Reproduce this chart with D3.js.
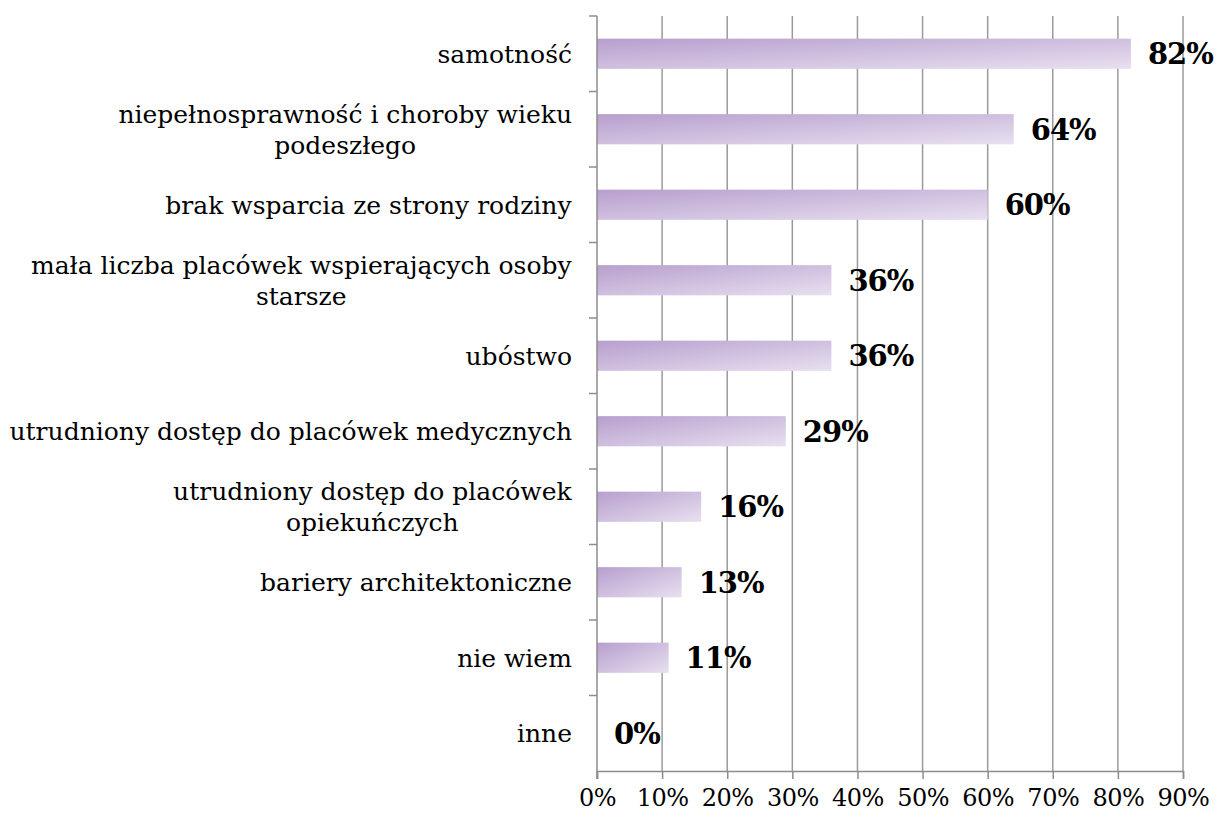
<!DOCTYPE html>
<html>
<head>
<meta charset="utf-8">
<script src="https://cdn.jsdelivr.net/npm/d3@7"></script>
<style>
  html, body { margin: 0; padding: 0; background: #fff; }
  svg { display: block; }
</style>
</head>
<body>
<svg id="chart" width="1219" height="820"></svg>
<script>
// Categories (top to bottom) and their shares
const categories = [
  "samotność",
  "niepełnosprawność i choroby wieku|podeszłego",
  "brak wsparcia ze strony rodziny",
  "mała liczba placówek wspierających osoby|starsze",
  "ubóstwo",
  "utrudniony dostęp do placówek medycznych",
  "utrudniony dostęp do placówek|opiekuńczych",
  "bariery architektoniczne",
  "nie wiem",
  "inne"
];
const values = [0.82, 0.64, 0.60, 0.36, 0.36, 0.29, 0.16, 0.13, 0.11, 0.00];
const xTicks = [0, 0.1, 0.2, 0.3, 0.4, 0.5, 0.6, 0.7, 0.8, 0.9];

const FONT = "'DejaVu Serif', 'Liberation Serif', serif";
const svg = d3.select("#chart");
const plot = { left: 597, right: 1183, top: 16, bottom: 771 };

const x = d3.scaleLinear().domain([0, 0.9]).range([plot.left, plot.right]);
const y = d3.scaleBand().domain(d3.range(categories.length)).range([plot.top, plot.bottom]).paddingInner(0.6).paddingOuter(0.3);
const band = (plot.bottom - plot.top) / categories.length;

// Bar gradient: darker lavender at top-left fading to pale at bottom-right
const defs = svg.append("defs");
const grad = defs.append("linearGradient").attr("id", "barGrad")
  .attr("x1", "0").attr("y1", "0").attr("x2", "1").attr("y2", "1");
grad.append("stop").attr("offset", "0%").attr("stop-color", "#b79fce");
grad.append("stop").attr("offset", "100%").attr("stop-color", "#e8e0f0");

// Vertical gridlines
svg.append("g").selectAll("line").data(xTicks.slice(1)).join("line")
  .attr("x1", d => x(d)).attr("x2", d => x(d))
  .attr("y1", plot.top).attr("y2", plot.bottom)
  .attr("stroke", "#9a9a9a").attr("stroke-width", 1.5);

// Bars
svg.append("g").selectAll("rect").data(values).join("rect")
  .attr("x", x(0))
  .attr("y", (d, i) => y(i))
  .attr("width", d => x(d) - x(0))
  .attr("height", y.bandwidth())
  .attr("fill", "url(#barGrad)");

// Value labels
svg.append("g").selectAll("text").data(values).join("text")
  .attr("x", d => x(d) + 17)
  .attr("y", (d, i) => y(i) + y.bandwidth() / 2)
  .attr("dy", "0.36em")
  .attr("font-family", FONT)
  .attr("font-weight", "bold")
  .attr("font-size", 29)
  .attr("letter-spacing", -1)
  .attr("fill", "#000")
  .text(d => Math.round(d * 100) + "%");

// Y axis line with ticks between categories
const yAxis = svg.append("g");
yAxis.append("line").attr("x1", plot.left).attr("x2", plot.left).attr("y1", plot.top).attr("y2", plot.bottom + 8)
  .attr("stroke", "#8c8c8c").attr("stroke-width", 1.5);
yAxis.selectAll("line.tk").data(d3.range(categories.length)).join("line").attr("class", "tk")
  .attr("x1", plot.left - 8).attr("x2", plot.left)
  .attr("y1", i => plot.top + i * band).attr("y2", i => plot.top + i * band)
  .attr("stroke", "#8c8c8c").attr("stroke-width", 1.5);

// Category labels, wrapped lines centred within a right-aligned block
categories.forEach((c, i) => {
  const lines = c.split("|");
  const cy = y(i) + y.bandwidth() / 2;
  const lh = 31;
  const t = svg.append("text")
    .attr("font-family", FONT).attr("font-size", 25).attr("fill", "#000")
    .attr("text-anchor", "middle");
  lines.forEach((ln, k) => {
    t.append("tspan").attr("x", 0).attr("y", cy + (k - (lines.length - 1) / 2) * lh).attr("dy", "0.36em").text(ln);
  });
  const w = t.node().getBBox().width;
  t.attr("transform", `translate(${572 - w / 2},0)`);
});

// X axis
const xAxis = d3.axisBottom(x).tickValues(xTicks).tickFormat(d3.format(".0%")).tickSize(8).tickPadding(10);
const gx = svg.append("g").attr("transform", `translate(0,${plot.bottom})`).call(xAxis);
gx.select(".domain").attr("stroke", "#8c8c8c").attr("stroke-width", 1.5);
gx.selectAll(".tick line").attr("stroke", "#8c8c8c").attr("stroke-width", 1.5);
gx.selectAll(".tick text").attr("font-family", FONT).attr("font-size", 24).attr("letter-spacing", -0.5).attr("fill", "#000");
</script>
</body>
</html>
